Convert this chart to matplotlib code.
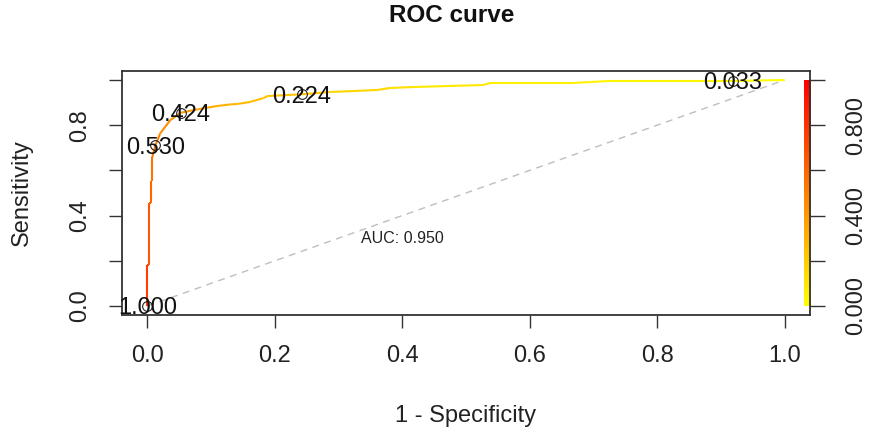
import numpy as np
import matplotlib
matplotlib.use("Agg")
import matplotlib.pyplot as plt
from matplotlib.collections import LineCollection
from matplotlib.colors import LinearSegmentedColormap

# ---- data ----
fpr = [0, 0, 0.002, 0.002, 0.005, 0.005, 0.0075, 0.0075, 0.0125, 0.020, 0.036,
       0.052, 0.078, 0.109, 0.130, 0.141, 0.161, 0.182, 0.188, 0.242, 0.287,
       0.361, 0.381, 0.417, 0.527, 0.538, 0.668, 0.694, 0.726, 0.919, 1.0]
tpr = [0, 0.181, 0.181, 0.456, 0.456, 0.553, 0.553, 0.659, 0.712, 0.764, 0.823,
       0.855, 0.870, 0.885, 0.892, 0.894, 0.903, 0.920, 0.929, 0.937, 0.947,
       0.956, 0.965, 0.969, 0.978, 0.987, 0.987, 0.991, 0.996, 0.996, 1.0]
cutoff = [1.0, 0.76, 0.75, 0.66, 0.65, 0.60, 0.59, 0.55, 0.53, 0.49, 0.45,
          0.424, 0.38, 0.33, 0.30, 0.29, 0.27, 0.25, 0.245, 0.224, 0.20,
          0.16, 0.15, 0.13, 0.09, 0.085, 0.06, 0.055, 0.05, 0.033, 0.0]
label_fpr = [0.0, 0.0125, 0.052, 0.242, 0.919]
label_tpr = [0.0, 0.712, 0.855, 0.937, 0.996]
label_text = ["1.000", "0.530", "0.424", "0.224", "0.033"]
auc_text = "AUC: 0.950"
x_ticks = [0.0, 0.2, 0.4, 0.6, 0.8, 1.0]
x_ticklabels = ["0.0", "0.2", "0.4", "0.6", "0.8", "1.0"]
y_ticks = [0.0, 0.2, 0.4, 0.6, 0.8, 1.0]
y_ticklabels = ["0.0", "", "0.4", "", "0.8", ""]
r_ticks = [0.0, 0.2, 0.4, 0.6, 0.8, 1.0]
r_ticklabels = ["0.000", "", "0.400", "", "0.800", ""]

plt.rcParams['font.family'] = ['Liberation Sans', 'DejaVu Sans']
W, H = 869, 436
fig = plt.figure(figsize=(W / 100, H / 100), dpi=100)
L, R, T, B = 122, 810, 71, 315
ax = fig.add_axes([L / W, 1 - B / H, (R - L) / W, (B - T) / H])

cmap = LinearSegmentedColormap.from_list("ry", [(1, 1, 0), (1, 0, 0)])

# diagonal
ax.plot([0, 1], [0, 1], color="#BEBEBE", lw=1.0, ls=(0, (5, 4)), zorder=1)

# colorized ROC curve (each segment coloured by the lower cutoff at its end)
pts = np.column_stack([fpr, tpr])
segs = np.stack([pts[:-1], pts[1:]], axis=1)
cvals = np.array(cutoff[1:])
lc = LineCollection(segs, colors=cmap(cvals), linewidths=1.5, zorder=2)
ax.add_collection(lc)

# cutoff points and labels
ax.plot(label_fpr, label_tpr, ls="none", marker="o", mfc="none", mec="#222222",
        ms=7, mew=0.8, zorder=3)
for xx, yy, tt in zip(label_fpr, label_tpr, label_text):
    ax.text(xx, yy, tt, ha="center", va="center_baseline", fontsize=17,
            color="#111111", zorder=4)

ax.text(0.4, 0.3, auc_text, ha="center", va="center", fontsize=11.5, color="#222222")

# colorbar key
grad = np.linspace(0, 1, 256).reshape(-1, 1)
ax.imshow(grad, cmap=cmap, origin="lower", extent=[1.030, 1.040, 0, 1],
          aspect="auto", zorder=2)
ax.set_xlim(-0.04, 1.04)
ax.set_ylim(-0.04, 1.04)

for s in ax.spines.values():
    s.set_color("#333333")
    s.set_linewidth(1.3)

ax.set_xticks(x_ticks)
ax.set_xticklabels(x_ticklabels)
ax.set_yticks(y_ticks)
ax.set_yticklabels(y_ticklabels)
ax.tick_params(axis="both", length=9.5, width=1.0, color="#333333",
               labelsize=17, labelcolor="#222222")
ax.tick_params(axis="x", pad=12)
ax.tick_params(axis="y", pad=13)
for lab in ax.get_yticklabels():
    lab.set_rotation(90)
    lab.set_va("center")

ax2 = ax.twinx()
ax2.set_ylim(-0.04, 1.04)
ax2.set_yticks(r_ticks)
ax2.set_yticklabels(r_ticklabels)
ax2.tick_params(axis="y", length=11, width=1.0, color="#333333", labelsize=17,
                labelcolor="#222222", pad=14)
for lab in ax2.get_yticklabels():
    lab.set_rotation(90)
    lab.set_va("center")
for s in ax2.spines.values():
    s.set_visible(False)

cx = (L + R) / 2 / W
fig.text(452 / W, 1 - 15 / H, "ROC curve", ha="center", va="center", fontsize=17.5,
         fontweight="bold", color="#111111")
fig.text(cx, 1 - 416 / H, "1 - Specificity", ha="center", va="center",
         fontsize=17, color="#222222")
fig.text(22 / W, 1 - 193 / H, "Sensitivity", ha="center", va="center",
         rotation=90, fontsize=17, color="#222222")

fig.savefig("out.png", dpi=100, facecolor="white")
